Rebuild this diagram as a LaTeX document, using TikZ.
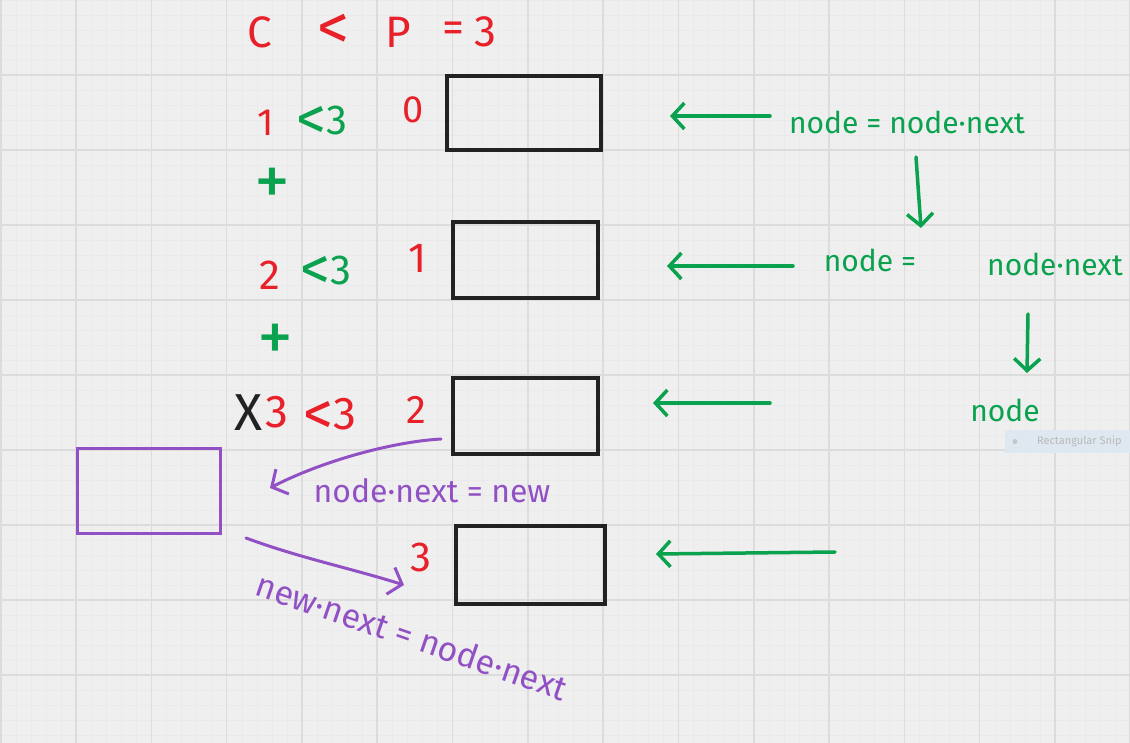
\documentclass[tikz,border=0pt]{standalone}
\usepackage{fontspec}
\setmainfont{Fira Sans}
\usetikzlibrary{arrows.meta}
\definecolor{bg}{HTML}{EFEFEF}
\definecolor{gridmaj}{HTML}{DCDCDC}
\definecolor{gridmin}{HTML}{EAEAEA}
\definecolor{hred}{HTML}{E8202A}
\definecolor{hgreen}{HTML}{0AA24E}
\definecolor{hpurple}{HTML}{9150C4}
\definecolor{hblack}{HTML}{222222}
\definecolor{snipbg}{HTML}{DFE8F1}
\definecolor{sniptxt}{HTML}{B8B8B8}
\newcommand{\biglt}{\raisebox{-5pt}{\fontsize{60}{60}\selectfont<}}
\tikzset{
  hand/.style={inner sep=0pt, font=\fontsize{#1}{#1}\selectfont},
  hand/.default=40,
  redt/.style={hand=#1, text=hred},
  redt/.default=40,
  greent/.style={hand=#1, text=hgreen},
  greent/.default=40,
  purplet/.style={hand=#1, text=hpurple},
  purplet/.default=32,
  cellbox/.style={draw=hblack, line width=3.5pt, minimum width=#1, inner sep=0pt},
  newbox/.style={draw=hpurple, line width=3pt, inner sep=0pt},
  garrow/.style={draw=hgreen, line width=3.5pt, line cap=round,
    -{Straight Barb[length=12pt,width=26pt,line width=3.5pt]}},
  parrow/.style={draw=hpurple, line width=3pt, line cap=round,
    -{Straight Barb[length=12pt,width=28pt,line width=3pt]}},
}
\begin{document}
\begin{tikzpicture}[x=1pt,y=-1pt]
\useasboundingbox (0,0) rectangle (1130,743);
% background and grid
\fill[bg] (0,0) rectangle (1130,743);
\foreach \i in {0,...,75} {\draw[gridmin, line width=0.4pt] (\i*15.06+0.75,0) -- (\i*15.06+0.75,743);}
\foreach \j in {0,...,50} {\draw[gridmin, line width=0.4pt] (0,\j*15) -- (1130,\j*15);}
\foreach \i in {0,...,15} {\draw[gridmaj, line width=1.6pt] (\i*75.3+0.75,0) -- (\i*75.3+0.75,743);}
\foreach \j in {1,...,9} {\draw[gridmaj, line width=1.6pt] (0,\j*75) -- (1130,\j*75);}

% header
\node[redt=44] (hc) at (260,32) {C};
\node[redt=64] (hlt) at (333,32) {<};
\node[redt=44] (hp) at (398,32) {P};
\node[redt=44] (heq) at (453,32) {=};
\node[redt=44] (h3) at (485,32) {3};

% row 1
\node[redt=38] (r1c) at (266,123) {1};
\node[greent=42] (r1lt) at (322,123) {\biglt3};
\node[redt=38] (r1i) at (413,110) {0};
\node[greent=72] (plus1) at (272,187) {+};
% row 2
\node[redt=42] (r2c) at (270,275) {2};
\node[greent=42] (r2lt) at (326,273) {\biglt3};
\node[redt=42] (r2i) at (418,258) {1};
\node[greent=72] (plus2) at (275,343) {+};
% row 3
\node[hand=52, text=hblack] (r3x) at (249,413) {X};
\node[redt=46] (r3c) at (277,412) {3};
\node[redt=46] (r3lt) at (330,416) {\biglt3};
\node[redt=40] (r3i) at (416,410) {2};
% row 4
\node[redt=42] (r4i) at (421,557) {3};

% boxes
\node[cellbox=154pt, minimum height=74pt] (b1) at (524,113) {};
\node[cellbox=145pt, minimum height=76pt] (b2) at (525.5,260) {};
\node[cellbox=145pt, minimum height=76pt] (b3) at (525.5,416) {};
\node[cellbox=149pt, minimum height=78pt] (b4) at (530.5,565) {};
\node[newbox, minimum width=143pt, minimum height=85pt] (nb) at (148.5,490.5) {};

% green texts
\node[greent=30] (g1) at (907,122) {node = node·next};
\node[greent=30] (g2) at (870,260) {node =};
\node[greent=30] (g3) at (1055,264) {node·next};
\node[greent=30] (g4) at (1005,410) {node};

% green arrows
\coordinate (a1s) at (770,116); \coordinate (a1e) at (670,116);
\coordinate (a2s) at (793,266); \coordinate (a2e) at (667,266);
\coordinate (a3s) at (770,403); \coordinate (a3e) at (653,403);
\coordinate (a4s) at (835,552); \coordinate (a4e) at (656,554);
\draw[garrow] (a1s) -- (a1e);
\draw[garrow] (a2s) -- (a2e);
\draw[garrow] (a3s) -- (a3e);
\draw[garrow] (a4s) -- (a4e);
\coordinate (d1s) at (916,157); \coordinate (d1e) at (921,228);
\coordinate (d2s) at (1028,314); \coordinate (d2e) at (1027,373);
\draw[garrow] (d1s) -- (d1e);
\draw[garrow] (d2s) -- (d2e);

% purple arrows
\coordinate (p1s) at (441,439); \coordinate (p1e) at (270,488);
\draw[parrow] (p1s) .. controls (390,442) and (320,462) .. (p1e);
\coordinate (p2s) at (246,538); \coordinate (p2e) at (404,585);
\draw[parrow] (p2s) .. controls (300,558) and (350,568) .. (p2e);
\node[purplet=32] (l1) at (432,491) {node·next = new};
\node[purplet=34, rotate=-19] (l2) at (412,636) {new·next = node·next};

% screenshot artifact
\fill[snipbg] (1005,430) rectangle (1130,453);
\fill[sniptxt!70!snipbg] (1015,441.5) circle (2.5pt);
\node[inner sep=0pt, anchor=west, text=sniptxt, font=\fontsize{11}{11}\selectfont] (snip) at (1037,441.5) {Rectangular Snip};
\end{tikzpicture}
\end{document}
